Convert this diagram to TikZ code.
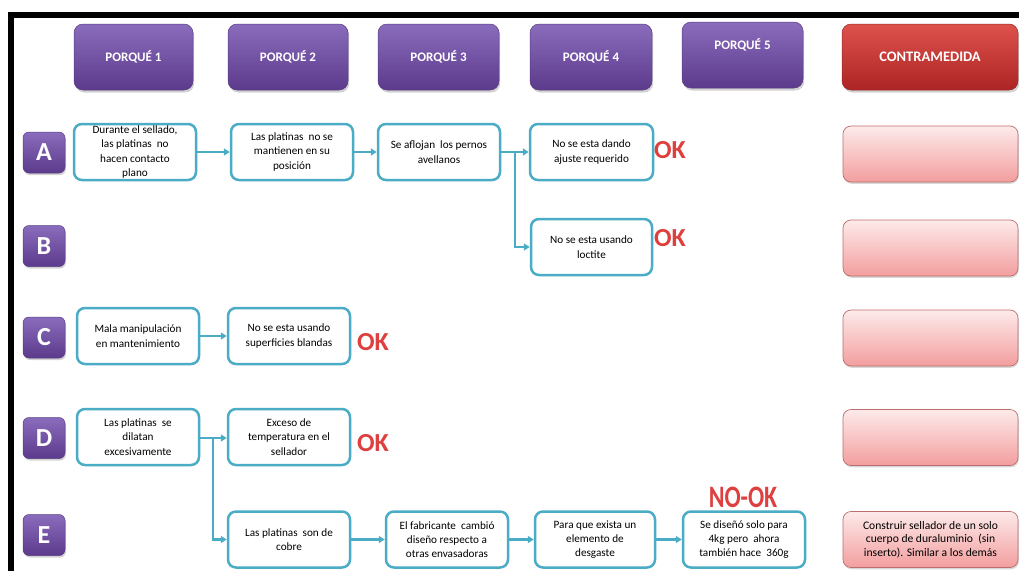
\documentclass[tikz,border=0pt]{standalone}
\usepackage{fontspec}
\usepackage{graphicx}
\setmainfont{Carlito}
\usetikzlibrary{arrows.meta,shadows}
\definecolor{aqua}{RGB}{75,172,198}
\definecolor{purpT}{RGB}{138,108,188}
\definecolor{purpB}{RGB}{92,58,140}
\definecolor{purpD}{RGB}{90,60,130}
\definecolor{redT}{RGB}{222,82,76}
\definecolor{redB}{RGB}{172,36,36}
\definecolor{redD}{RGB}{150,40,40}
\definecolor{pinkT}{RGB}{253,234,234}
\definecolor{pinkB}{RGB}{243,158,158}
\definecolor{pinkD}{RGB}{188,110,110}
\definecolor{okred}{RGB}{222,64,64}
\begin{document}
\begin{tikzpicture}[x=1pt,y=-1pt,
  hdr/.style={rounded corners=9pt, top color=purpT, bottom color=purpB, draw=purpD, line width=0.5pt,
    minimum height=66pt, text=white, font=\bfseries\fontsize{13}{15}\selectfont,
    drop shadow={shadow xshift=1.2pt,shadow yshift=-2.5pt,opacity=0.35}},
  hdrred/.style={hdr, top color=redT, bottom color=redB, draw=redD, font=\bfseries\fontsize{14.5}{16}\selectfont},
  lbl/.style={rounded corners=6pt, top color=purpT, bottom color=purpB, draw=purpD, line width=0.5pt,
    minimum width=42pt, minimum height=41pt, inner sep=0pt, text=white,
    font=\bfseries\fontsize{26}{28}\selectfont,
    drop shadow={shadow xshift=1pt,shadow yshift=-2pt,opacity=0.35}},
  cause/.style={rounded corners=8pt, draw=aqua, line width=2.5pt, fill=white, minimum height=56pt,
    inner xsep=2pt, inner ysep=0pt, align=center, font=\fontsize{11.2}{14.3}\selectfont},
  pinkbox/.style={rounded corners=8pt, top color=pinkT, bottom color=pinkB, draw=pinkD, line width=0.7pt,
    minimum width=175pt, minimum height=56pt, inner sep=0pt, align=center,
    font=\fontsize{11.6}{13.5}\selectfont,
    drop shadow={shadow xshift=0.8pt,shadow yshift=-1.8pt,opacity=0.3}},
  oktext/.style={text=okred, font=\bfseries\fontsize{26}{28}\selectfont, inner sep=0pt},
  conn/.style={draw=aqua, line width=2.2pt, -{Triangle[length=6pt,width=7pt]}}
]
\useasboundingbox (0,0) rectangle (1019,571);
\fill[white] (0,0) rectangle (1019,571);
% frame
\fill[black] (8,12) rectangle (14,571);
\fill[black] (8,12) rectangle (1019,18);

% headers
\node[hdr, minimum width=119pt] (h1) at (133.5,57) {PORQUÉ 1};
\node[hdr, minimum width=120pt] (h2) at (288,57) {PORQUÉ 2};
\node[hdr, minimum width=121pt] (h3) at (438.5,57) {PORQUÉ 3};
\node[hdr, minimum width=122pt] (h4) at (591,57) {PORQUÉ 4};
\node[hdr, minimum width=121pt, text height=9pt, text depth=20pt] (h5) at (742.5,55) {PORQUÉ 5};
\node[hdrred, minimum width=176pt] (h6) at (930,57) {CONTRAMEDIDA};

% row labels
\node[lbl] (la) at (44,152.5) {A};
\node[lbl] (lb) at (44,246) {B};
\node[lbl] (lc) at (44,337.5) {C};
\node[lbl] (ld) at (44,438) {D};
\node[lbl] (le) at (44,535) {E};

% row A
\node[cause, minimum width=122pt] (a1) at (135,152) {Durante el sellado,\\las platinas\ \ no\\hacen contacto\\plano};
\node[cause, minimum width=122pt] (a2) at (292,152) {Las platinas\ \ no se\\mantienen en su\\posición};
\node[cause, minimum width=122pt] (a3) at (439,152) {Se aflojan\ \ los pernos\\avellanos};
\node[cause, minimum width=123pt] (a4) at (591.5,152) {No se esta dando\\ajuste requerido};
% row B
\node[cause, minimum width=121pt] (b4) at (591.5,247) {No se esta usando\\loctite};
% row C
\node[cause, minimum width=122pt] (c1) at (138,336) {Mala manipulación\\en mantenimiento};
\node[cause, minimum width=122pt] (c2) at (289,336) {No se esta usando\\superficies blandas};
% row D
\node[cause, minimum width=122pt] (d1) at (138,437) {Las platinas\ \ se\\dilatan\\excesivamente};
\node[cause, minimum width=122pt] (d2) at (289,437) {Exceso de\\temperatura en el\\sellador};
% row E
\node[cause, minimum width=122pt] (e2) at (289,539.5) {Las platinas\ \ son de\\cobre};
\node[cause, minimum width=122pt] (e3) at (447,539.5) {El fabricante\ \ cambió\\diseño respecto a\\otras envasadoras};
\node[cause, minimum width=120pt] (e4) at (595,539.5) {Para que exista un\\elemento de\\desgaste};
\node[cause, minimum width=122pt] (e5) at (744,539.5) {Se diseñó solo para\\4kg pero\ \ ahora\\también hace\ \ 360g};

% countermeasure boxes
\node[pinkbox] (pa) at (930.5,154) {};
\node[pinkbox] (pb) at (930.5,248) {};
\node[pinkbox] (pc) at (930.5,338) {};
\node[pinkbox] (pd) at (930.5,437.5) {};
\node[pinkbox] (pe) at (930.5,539.5) {Construir sellador de un solo\\cuerpo de duraluminio\ \ (sin\\inserto). Similar a los demás};

% OK labels
\node[oktext] (oka) at (670,150) {OK};
\node[oktext] (okb) at (670,238) {OK};
\node[oktext] (okc) at (373,342) {OK};
\node[oktext] (okd) at (373,443) {OK};
\node[oktext] (oke) at (743,497) {\scalebox{0.92}[1.2]{NO-OK}};

% connectors
\draw[conn] (a1) -- (a2);
\draw[conn] (a2) -- (a3);
\draw[conn] (a3) -- (a4);
\coordinate (ja) at (515,152);
\draw[conn] (ja) |- (b4.west);
\draw[conn] (c1) -- (c2);
\draw[conn] (d1.east |- 0,438) -- (d2.west |- 0,438);
\coordinate (jd) at (213,438);
\draw[conn] (jd) |- (e2.west);
\draw[conn] (e2) -- (e3);
\draw[conn] (e3) -- (e4);
\draw[conn] (e4) -- (e5);
\end{tikzpicture}
\end{document}
